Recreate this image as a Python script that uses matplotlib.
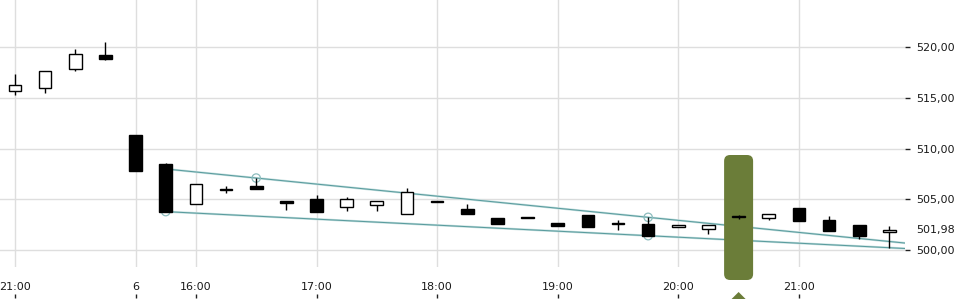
import numpy as np
import matplotlib
matplotlib.use("Agg")
import matplotlib.pyplot as plt
from matplotlib.patches import FancyBboxPatch, Polygon

# ---------------- data ----------------
opens  = [515.69, 515.93, 517.80, 519.21, 511.33, 508.47, 504.50, 506.00, 506.30, 504.83,
          505.02, 504.20, 504.43, 503.51, 504.82, 504.04, 503.12, 503.22, 502.69, 503.42,
          502.62, 502.56, 502.24, 502.03, 503.25, 503.12, 504.14, 502.96, 502.46, 501.74]
highs  = [517.34, 517.64, 519.80, 520.49, 511.33, 508.57, 506.50, 506.30, 507.09, 504.83,
          505.42, 505.22, 504.83, 506.08, 504.82, 504.53, 503.12, 503.22, 502.69, 503.42,
          502.96, 503.22, 502.46, 502.46, 503.45, 503.55, 504.14, 503.35, 502.46, 502.36]
lows   = [515.27, 515.50, 517.67, 518.72, 507.81, 503.78, 504.50, 505.65, 505.98, 503.90,
          503.71, 503.87, 503.87, 503.51, 504.78, 503.51, 502.60, 503.20, 502.40, 502.30,
          501.97, 501.41, 502.24, 501.58, 503.02, 502.96, 502.89, 501.90, 501.05, 500.23]
closes = [516.26, 517.64, 519.31, 518.82, 507.81, 503.78, 506.50, 506.00, 505.98, 504.66,
          503.71, 504.99, 504.83, 505.68, 504.78, 503.51, 502.60, 503.20, 502.40, 502.30,
          502.58, 501.41, 502.46, 502.46, 503.30, 503.55, 502.89, 501.90, 501.41, 501.98]

tick_idx = [0, 4, 6, 10, 14, 18, 22, 26]
tick_labels = ["21:00", "6", "16:00", "17:00", "18:00", "19:00", "20:00", "21:00"]

y_ticks = [500, 505, 510, 515, 520]
y_tick_labels = ["500,00", "505,00", "510,00", "515,00", "520,00"]
last_price = 501.98
last_label = "501,98"

upper_x = [8, 21]
upper_y = [507.09, 503.22]
lower_x = [5, 21]
lower_y = [503.78, 501.41]
line_start = 5.0
line_end = 29.52

highlight_idx = 24

# ---------------- figure ----------------
W, H = 960, 300
fig = plt.figure(figsize=(W / 100, H / 100), dpi=100)
ax_right_px = 905
ax_bottom_px = 267
ax = fig.add_axes([0, 1 - ax_bottom_px / H, ax_right_px / W, ax_bottom_px / H])

px_per_idx = 30.15
px_per_unit = 10.15
x0_idx = -15 / px_per_idx
ax.set_xlim(x0_idx, x0_idx + ax_right_px / px_per_idx)
ax.set_ylim(500 - 17 / px_per_unit, 500 + 250 / px_per_unit)

for s in ax.spines.values():
    s.set_visible(False)

grid_c = "#dedede"
for yv in y_ticks:
    ax.axhline(yv, color=grid_c, lw=1, zorder=0)
for xi in tick_idx:
    ax.axvline(xi, color=grid_c, lw=1, zorder=0)

# y axis on right
ax.yaxis.tick_right()
ax.set_yticks(y_ticks)
ax.set_yticklabels(y_tick_labels)
ax.tick_params(axis="y", direction="out", length=3.6, width=1, color="#222222",
               pad=4.2, labelsize=8, labelcolor="#1a1a1a")
ax.text(916 / ax_right_px, last_price, last_label, transform=ax.get_yaxis_transform(),
        ha="left", va="center", fontsize=8, color="#1a1a1a")

# x axis labels below, tick marks below labels
ax.set_xticks(tick_idx)
ax.set_xticklabels(tick_labels)
ax.tick_params(axis="x", length=0, pad=11, labelsize=8, labelcolor="#1a1a1a")
xt = ax.get_xaxis_transform()
for xi in tick_idx:
    ax.plot([xi, xi], [-(294 - ax_bottom_px) / ax_bottom_px, -(298 - ax_bottom_px) / ax_bottom_px],
            transform=xt, color="#222222", lw=1, clip_on=False, solid_capstyle="butt")

# trend lines
line_c = "#5a9c9e"
for xs, ys in ((upper_x, upper_y), (lower_x, lower_y)):
    slope = (ys[1] - ys[0]) / (xs[1] - xs[0])
    xa = np.array([line_start, line_end])
    ya = ys[0] + slope * (xa - xs[0])
    ax.plot(xa, ya, color="#c4dfdf", lw=1.6, zorder=1, solid_capstyle="butt")
    ax.plot(xa, ya, color=line_c, lw=0.75, zorder=1.1, solid_capstyle="butt")
    ax.scatter(xs, ys, s=36, facecolors="none", edgecolors="#8cbcbd", linewidths=0.9, zorder=1.2)

# highlight
green = "#6b7d39"
ux = 1 / px_per_idx
uy = 1 / px_per_unit
hx0 = highlight_idx - 14.5 * ux
hy0 = 500 + (250 - 280) * uy
hy1 = 500 + (250 - 155) * uy
rect = FancyBboxPatch((hx0, hy0), 29 * ux, hy1 - hy0,
                      boxstyle=f"round,pad=0,rounding_size={6 * ux}",
                      mutation_aspect=uy / ux, facecolor=green, edgecolor="none",
                      zorder=2, clip_on=False)
ax.add_patch(rect)
tri = Polygon([[highlight_idx, 500 + (250 - 292) * uy],
               [highlight_idx - 7 * ux, 500 + (250 - 299) * uy],
               [highlight_idx + 7 * ux, 500 + (250 - 299) * uy]],
              closed=True, facecolor=green, edgecolor="none", clip_on=False, zorder=2)
ax.add_patch(tri)

# candles
bw = 0.42
for i, (o, h, l, c) in enumerate(zip(opens, highs, lows, closes)):
    up = c >= o
    lo_b, hi_b = min(o, c), max(o, c)
    if hi_b - lo_b < 0.08:
        mid = (hi_b + lo_b) / 2
        lo_b, hi_b = mid - 0.04, mid + 0.04
    ax.plot([i, i], [l, h], color="black", lw=1.0, zorder=3, solid_capstyle="butt")
    ax.bar(i, hi_b - lo_b, bottom=lo_b, width=bw,
           color="white" if up else "black", edgecolor="black", linewidth=1.0, zorder=4)

fig.savefig("out.png", dpi=100)
